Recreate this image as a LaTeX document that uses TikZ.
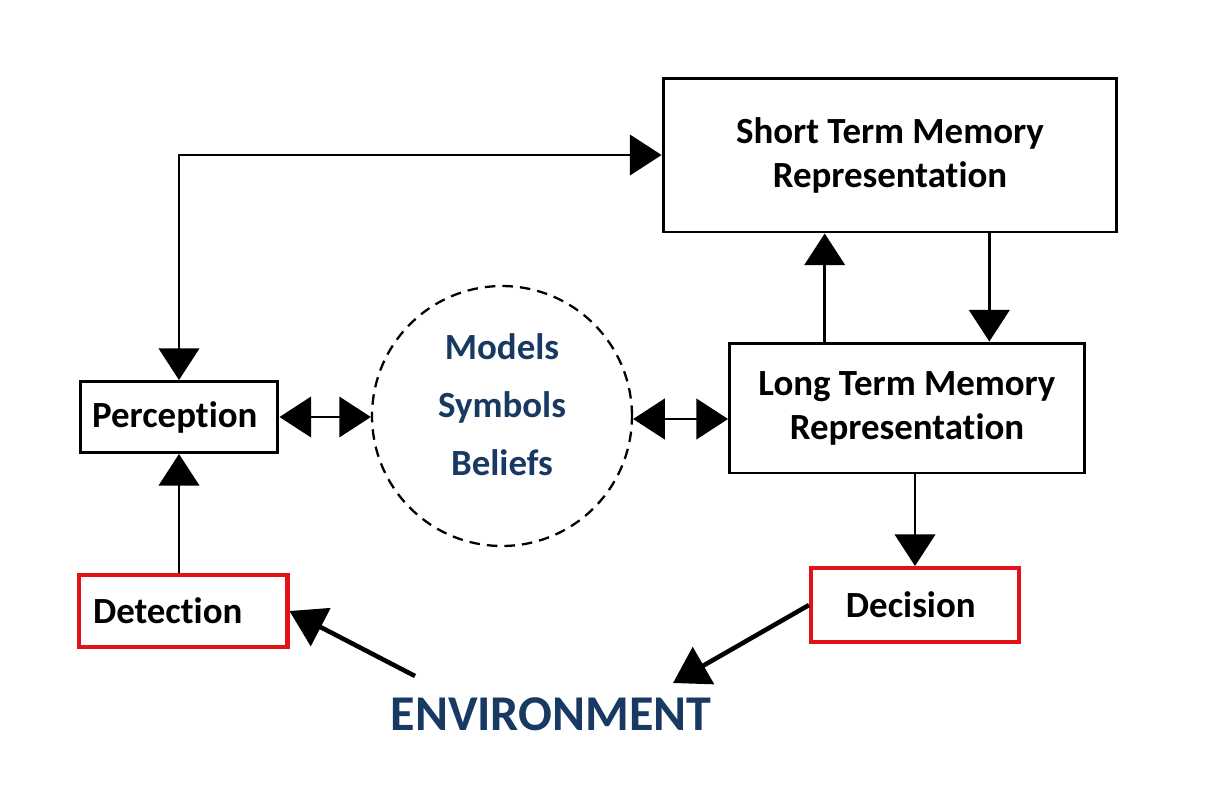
\documentclass[tikz,border=0pt]{standalone}
\usepackage{fontspec}
\setmainfont{Carlito}[Ligatures=NoCommon]
\usetikzlibrary{arrows.meta,calc}
\definecolor{envblue}{RGB}{24,58,98}
\definecolor{boxred}{RGB}{226,18,24}

\begin{document}
\begin{tikzpicture}[x=0.02cm,y=-0.02cm,
  box/.style={draw,line width=1.7pt,inner sep=0pt,align=center,
    font=\fontsize{21}{25}\selectfont\bfseries},
  redbox/.style={box,draw=boxred,line width=2.3pt},
  link/.style={line width=1.5pt,-{Triangle[length=18pt,width=23pt]}},
  twolink/.style={line width=1.5pt,{Triangle[length=18pt,width=23pt]}-{Triangle[length=18pt,width=23pt]}},
  biglink/.style={line width=2.6pt,-{Triangle[length=20pt,width=24pt]}}]
\fill[white] (0,0) rectangle (1216,806);
\useasboundingbox (0,0) rectangle (1216,806);
\begin{scope}
\node[box,minimum width=9.08cm,minimum height=3.08cm] (stm) at (890,155)
  { Short Term Memory\\Representation };
\node[box,minimum width=7.1cm,minimum height=2.6cm] (ltm) at (907,408)
  { Long Term Memory\\Representation };
\node[box,minimum width=3.96cm,minimum height=1.42cm] (perc) at (179,417)
  { Perception };
\node[redbox,minimum width=4.18cm,minimum height=1.44cm,text width=3.6cm,align=left] (det) at (183,611)
  { Detection };
\node[redbox,minimum width=4.16cm,minimum height=1.48cm] (dec) at (915,605)
  { Decision };
\node[draw,circle,dashed,dash pattern=on 6pt off 4pt,line width=1.3pt,
  minimum size=5.2cm,inner sep=0pt] (mind) at (502,416) { };
\node[text=envblue,align=center,font=\fontsize{21}{33}\selectfont\bfseries]
  (beliefs) at (502,405) { Models\\Symbols\\Beliefs };
\node[text=envblue,font=\fontsize{28.5}{32}\selectfont\bfseries]
  (env) at (551,714) { ENVIRONMENT };
\end{scope}
\coordinate (up) at ($(ltm.north west)!0.27!(ltm.north east)$);
\coordinate (down) at ($(ltm.north west)!0.73!(ltm.north east)$);
\coordinate (envR) at (673,683);
\coordinate (envL) at (415,676);
\draw[twolink] (perc.north) |- (stm.west);
\draw[twolink] (perc.east) -- (perc.east -| mind.west);
\draw[twolink] (mind.east |- 0,419) -- (ltm.west |- 0,419);
\draw[link] (up) -- (up |- stm.south);
\draw[link] (down |- stm.south) -- (down);
\draw[link] (ltm.south -| dec.north) -- (dec.north);
\draw[link] (det.north -| perc.south) -- (perc.south);
\draw[biglink] (dec.west) -- (envR);
\draw[biglink] (envL) -- (det.east);
\end{tikzpicture}
\end{document}
